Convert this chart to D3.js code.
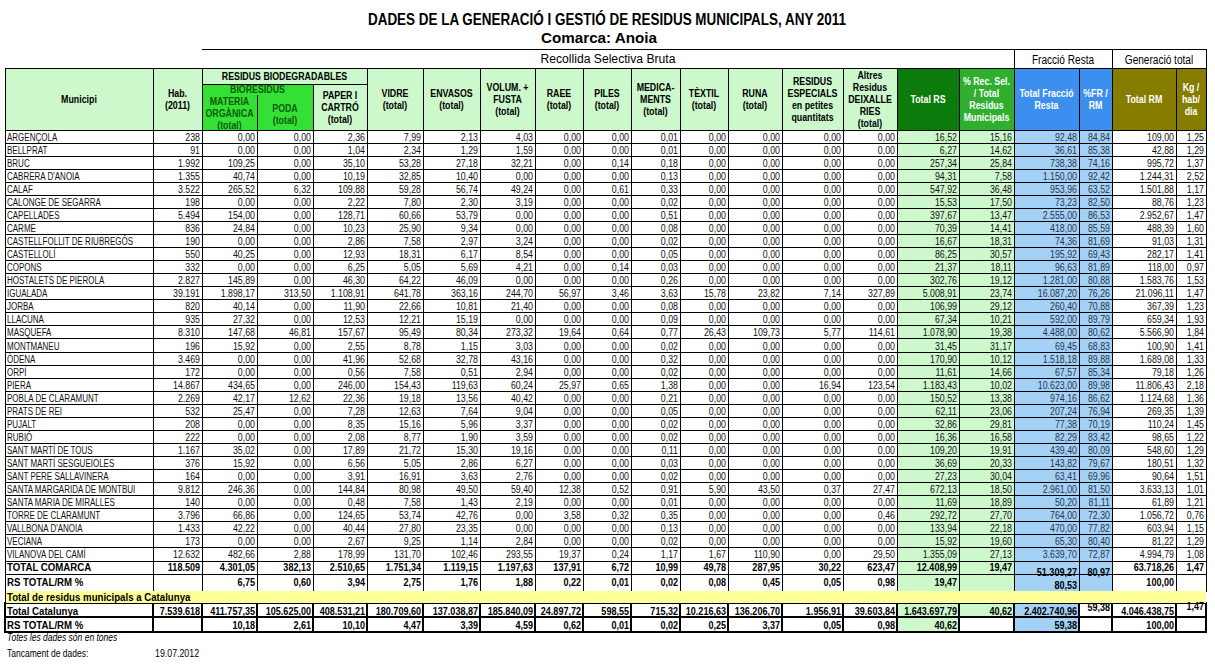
<!DOCTYPE html>
<html>
<head>
<meta charset="utf-8">
<script src="https://cdn.jsdelivr.net/npm/d3@7"></script>
<style>
  body { margin: 0; background: #fff; }
  svg { display: block; }
  text { font-family: "Liberation Sans", Arial, sans-serif; }
</style>
</head>
<body>
<div id="chart"></div>
<script>
// ---- data (tones) ----
const municipis = ["ARGENÇOLA", "BELLPRAT", "BRUC", "CABRERA D'ANOIA", "CALAF", "CALONGE DE SEGARRA",
  "CAPELLADES", "CARME", "CASTELLFOLLIT DE RIUBREGÓS", "CASTELLOLÍ", "COPONS", "HOSTALETS DE PIEROLA",
  "IGUALADA", "JORBA", "LLACUNA", "MASQUEFA", "MONTMANEU", "ÒDENA", "ORPÍ", "PIERA", "POBLA DE CLARAMUNT",
  "PRATS DE REI", "PUJALT", "RUBIÓ", "SANT MARTÍ DE TOUS", "SANT MARTÍ SESGUEIOLES", "SANT PERE SALLAVINERA",
  "SANTA MARGARIDA DE MONTBUI", "SANTA MARIA DE MIRALLES", "TORRE DE CLARAMUNT", "VALLBONA D'ANOIA",
  "VECIANA", "VILANOVA DEL CAMÍ"];

const habitants = [238, 91, 1992, 1355, 3522, 198, 5494, 836, 190, 550, 332, 2827, 39191, 820, 935, 8310,
  196, 3469, 172, 14867, 2269, 532, 208, 222, 1167, 376, 164, 9812, 140, 3796, 1433, 173, 12632];
const materiaOrganica = [0, 0, 109.25, 40.74, 265.52, 0, 154.00, 24.84, 0, 40.25, 0, 145.89, 1898.17, 40.14,
  27.32, 147.68, 15.92, 0, 0, 434.65, 42.17, 25.47, 0, 0, 35.02, 15.92, 0, 246.36, 0, 66.86, 42.22, 0, 482.66];
const poda = [0, 0, 0, 0, 6.32, 0, 0, 0, 0, 0, 0, 0, 313.50, 0, 0, 46.81, 0, 0, 0, 0, 12.62, 0, 0, 0, 0, 0,
  0, 0, 0, 0, 0, 0, 2.88];
const paperCartro = [2.36, 1.04, 35.10, 10.19, 109.88, 2.22, 128.71, 10.23, 2.86, 12.93, 6.25, 46.30, 1108.91,
  11.90, 12.53, 157.67, 2.55, 41.96, 0.56, 246.00, 22.36, 7.28, 8.35, 2.08, 17.89, 6.56, 3.91, 144.84, 0.48,
  124.65, 40.44, 2.67, 178.99];
const vidre = [7.99, 2.34, 53.28, 32.85, 59.28, 7.80, 60.66, 25.90, 7.58, 18.31, 5.05, 64.22, 641.78, 22.66,
  12.21, 95.49, 8.78, 52.68, 7.58, 154.43, 19.18, 12.63, 15.16, 8.77, 21.72, 5.05, 16.91, 80.98, 7.58, 53.74,
  27.80, 9.25, 131.70];
const envasos = [2.13, 1.29, 27.18, 10.40, 56.74, 2.30, 53.79, 9.34, 2.97, 6.17, 5.69, 46.09, 363.16, 10.81,
  15.19, 80.34, 1.15, 32.78, 0.51, 119.63, 13.56, 7.64, 5.96, 1.90, 15.30, 2.86, 3.63, 49.50, 1.43, 42.76,
  23.35, 1.14, 102.46];
const volumFusta = [4.03, 1.59, 32.21, 0, 49.24, 3.19, 0, 0, 3.24, 8.54, 4.21, 0, 244.70, 21.40, 0, 273.32,
  3.03, 43.16, 2.94, 60.24, 40.42, 9.04, 3.37, 3.59, 19.16, 6.27, 2.76, 59.40, 2.19, 0, 0, 2.84, 293.55];
const raee = [0, 0, 0, 0, 0, 0, 0, 0, 0, 0, 0, 0, 56.97, 0, 0, 19.64, 0, 0, 0, 25.97, 0, 0, 0, 0, 0, 0, 0,
  12.38, 0, 3.58, 0, 0, 19.37];
const piles = [0, 0, 0.14, 0, 0.61, 0, 0, 0, 0, 0, 0.14, 0, 3.46, 0, 0, 0.64, 0, 0, 0, 0.65, 0, 0, 0, 0, 0,
  0, 0, 0.52, 0, 0.32, 0, 0, 0.24];
const medicaments = [0.01, 0.01, 0.18, 0.13, 0.33, 0.02, 0.51, 0.08, 0.02, 0.05, 0.03, 0.26, 3.63, 0.08, 0.09,
  0.77, 0.02, 0.32, 0.02, 1.38, 0.21, 0.05, 0.02, 0.02, 0.11, 0.03, 0.02, 0.91, 0.01, 0.35, 0.13, 0.02, 1.17];
const textil = [0, 0, 0, 0, 0, 0, 0, 0, 0, 0, 0, 0, 15.78, 0, 0, 26.43, 0, 0, 0, 0, 0, 0, 0, 0, 0, 0, 0,
  5.90, 0, 0, 0, 0, 1.67];
const runa = [0, 0, 0, 0, 0, 0, 0, 0, 0, 0, 0, 0, 23.82, 0, 0, 109.73, 0, 0, 0, 0, 0, 0, 0, 0, 0, 0, 0,
  43.50, 0, 0, 0, 0, 110.90];
const especials = [0, 0, 0, 0, 0, 0, 0, 0, 0, 0, 0, 0, 7.14, 0, 0, 5.77, 0, 0, 0, 16.94, 0, 0, 0, 0, 0, 0, 0,
  0.37, 0, 0, 0, 0, 0];
const altresDeixalleries = [0, 0, 0, 0, 0, 0, 0, 0, 0, 0, 0, 0, 327.89, 0, 0, 114.61, 0, 0, 0, 123.54, 0, 0,
  0, 0, 0, 0, 0, 27.47, 0, 0.46, 0, 0, 29.50];
const totalRS = [16.52, 6.27, 257.34, 94.31, 547.92, 15.53, 397.67, 70.39, 16.67, 86.25, 21.37, 302.76,
  5008.91, 106.99, 67.34, 1078.90, 31.45, 170.90, 11.61, 1183.43, 150.52, 62.11, 32.86, 16.36, 109.20, 36.69,
  27.23, 672.13, 11.69, 292.72, 133.94, 15.92, 1355.09];
const pctRecSel = [15.16, 14.62, 25.84, 7.58, 36.48, 17.50, 13.47, 14.41, 18.31, 30.57, 18.11, 19.12, 23.74,
  29.12, 10.21, 19.38, 31.17, 10.12, 14.66, 10.02, 13.38, 23.06, 29.81, 16.58, 19.91, 20.33, 30.04, 18.50,
  18.89, 27.70, 22.18, 19.60, 27.13];
const totalFR = [92.48, 36.61, 738.38, 1150.00, 953.96, 73.23, 2555.00, 418.00, 74.36, 195.92, 96.63, 1281.00,
  16087.20, 260.40, 592.00, 4488.00, 69.45, 1518.18, 67.57, 10623.00, 974.16, 207.24, 77.38, 82.29, 439.40,
  143.82, 63.41, 2961.00, 50.20, 764.00, 470.00, 65.30, 3639.70];
const pctFR = [84.84, 85.38, 74.16, 92.42, 63.52, 82.50, 86.53, 85.59, 81.69, 69.43, 81.89, 80.88, 76.26,
  70.88, 89.79, 80.62, 68.83, 89.88, 85.34, 89.98, 86.62, 76.94, 70.19, 83.42, 80.09, 79.67, 69.96, 81.50,
  81.11, 72.30, 77.82, 80.40, 72.87];
const totalRM = [109.00, 42.88, 995.72, 1244.31, 1501.88, 88.76, 2952.67, 488.39, 91.03, 282.17, 118.00,
  1583.76, 21096.11, 367.39, 659.34, 5566.90, 100.90, 1689.08, 79.18, 11806.43, 1124.68, 269.35, 110.24,
  98.65, 548.60, 180.51, 90.64, 3633.13, 61.89, 1056.72, 603.94, 81.22, 4994.79];
const kgHabDia = [1.25, 1.29, 1.37, 2.52, 1.17, 1.23, 1.47, 1.60, 1.31, 1.41, 0.97, 1.53, 1.47, 1.23, 1.93,
  1.84, 1.41, 1.33, 1.26, 2.18, 1.36, 1.39, 1.45, 1.22, 1.29, 1.32, 1.51, 1.01, 1.21, 0.76, 1.15, 1.29, 1.08];

// summary rows, same column order as the series above (null = empty cell)
const totalComarca = [118509, 4301.05, 382.13, 2510.65, 1751.34, 1119.15, 1197.63, 137.91, 6.72, 10.99,
  49.78, 287.95, 30.22, 623.47, 12408.99, 19.47, 51309.27, 80.97, 63718.26, 1.47];
const pctComarca = [null, 6.75, 0.60, 3.94, 2.75, 1.76, 1.88, 0.22, 0.01, 0.02, 0.08, 0.45, 0.05, 0.98,
  19.47, null, 80.53, null, 100.00, null];
const totalCatalunya = [7539618, 411757.35, 105625.00, 408531.21, 180709.60, 137038.87, 185840.09, 24897.72,
  598.55, 715.32, 10216.63, 136206.70, 1956.91, 39603.84, 1643697.79, 40.62, 2402740.96, 59.38, 4046438.75, 1.47];
const pctCatalunya = [null, 10.18, 2.61, 10.10, 4.47, 3.39, 4.59, 0.62, 0.01, 0.02, 0.25, 3.37, 0.05, 0.98,
  40.62, null, 59.38, null, 100.00, null];

// ---- layout ----
const W = 1215, H = 671;
const colKeys = ['mun', 'hab', 'mo', 'poda', 'paper', 'vidre', 'envasos', 'volum', 'raee', 'piles', 'medic',
  'textil', 'runa', 'esp', 'altres', 'totRS', 'pctRS', 'totFR', 'pctFR', 'totRM', 'kg'];
const colEdges = [5, 153, 202, 257, 313, 367, 423, 480, 535, 583, 631, 680, 728, 782, 843, 897, 959, 1014,
  1079, 1112, 1176, 1206];
const numKeys = colKeys.slice(1);
const series = [habitants, materiaOrganica, poda, paperCartro, vidre, envasos, volumFusta, raee, piles,
  medicaments, textil, runa, especials, altresDeixalleries, totalRS, pctRecSel, totalFR, pctFR, totalRM, kgHabDia];

const LIGHT_GREEN = '#ccf8cc', BRIGHT_GREEN = '#35e035', DARK_GREEN = '#0b7c0b', MID_GREEN = '#2fae2f';
const BLUE = '#3c8fee', LIGHT_BLUE = '#a3d2f6', OLIVE = '#857c00', YELLOW = '#ffff99';

const loc = d3.formatLocale({ decimal: ',', thousands: '.', grouping: [3], currency: ['', ''] });
const fmtInt = loc.format(',d'), fmtDec = loc.format(',.2f');
const fmt = (k, v) => v == null ? '' : (k === 'hab' ? fmtInt(v) : fmtDec(v));

const x = d3.scaleOrdinal().domain(colKeys).range(colEdges.slice(0, -1));
const xEnd = d3.scaleOrdinal().domain(colKeys).range(colEdges.slice(1));
const y = d3.scaleBand().domain(municipis).range([130, 561]);

const cellFill = k => (k === 'totRS' || k === 'pctRS') ? LIGHT_GREEN
  : (k === 'totFR' || k === 'pctFR') ? LIGHT_BLUE : '#fff';

// narrow the glyphs, the original is horizontally squeezed
function squeeze(sel, k) {
  sel.each(function () {
    const w = this.getComputedTextLength();
    if (w > 0) d3.select(this).attr('textLength', w * k).attr('lengthAdjust', 'spacingAndGlyphs');
  });
}

const svg = d3.select('#chart').append('svg').attr('width', W).attr('height', H)
  .attr('shape-rendering', 'crispEdges');

// ---- titles ----
const titles = [
  { t: 'DADES DE LA GENERACIÓ I GESTIÓ DE RESIDUS MUNICIPALS, ANY 2011', cx: 607, y: 25, size: 16, bold: true, w: 478 },
  { t: 'Comarca: Anoia', cx: 599, y: 43, size: 14, bold: true, w: 116 },
  { t: 'Recollida Selectiva Bruta', cx: 608, y: 63, size: 12, bold: false, w: 135 }
];
svg.selectAll('text.title').data(titles).enter().append('text')
  .attr('class', 'title')
  .attr('x', d => d.cx).attr('y', d => d.y)
  .attr('text-anchor', 'middle')
  .attr('font-size', d => d.size)
  .attr('font-weight', d => d.bold ? 'bold' : 'normal')
  .attr('textLength', d => d.w).attr('lengthAdjust', 'spacingAndGlyphs')
  .text(d => d.t);

// ---- header ----
const headerCells = [
  { from: 'mun', to: 'mun', y0: 68, y1: 130, lines: ['Municipi'] },
  { from: 'hab', to: 'hab', y0: 68, y1: 130, lines: ['Hab.', '(2011)'] },
  { from: 'mo', to: 'paper', y0: 68, y1: 84, fill: LIGHT_GREEN, lines: ['RESIDUS BIODEGRADABLES'] },
  { from: 'mo', to: 'poda', y0: 84, y1: 96, fill: BRIGHT_GREEN, color: '#0a5c0a', lines: ['BIORESIDUS'], cy: 89 },
  { from: 'mo', to: 'mo', y0: 95, y1: 130, fill: BRIGHT_GREEN, color: '#0a5c0a', lines: ['MATERIA', 'ORGÀNICA', '(total)'], cy: 113.5 },
  { from: 'poda', to: 'poda', y0: 95, y1: 130, fill: BRIGHT_GREEN, color: '#0a5c0a', lines: ['PODA', '(total)'], cy: 114 },
  { from: 'paper', to: 'paper', y0: 84, y1: 130, fill: LIGHT_GREEN, lines: ['PAPER I', 'CARTRÓ', '(total)'], cy: 107 },
  { from: 'vidre', to: 'vidre', lines: ['VIDRE', '(total)'] },
  { from: 'envasos', to: 'envasos', lines: ['ENVASOS', '(total)'] },
  { from: 'volum', to: 'volum', lines: ['VOLUM. +', 'FUSTA', '(total)'] },
  { from: 'raee', to: 'raee', lines: ['RAEE', '(total)'] },
  { from: 'piles', to: 'piles', lines: ['PILES', '(total)'] },
  { from: 'medic', to: 'medic', lines: ['MEDICA-', 'MENTS', '(total)'] },
  { from: 'textil', to: 'textil', lines: ['TÈXTIL', '(total)'] },
  { from: 'runa', to: 'runa', lines: ['RUNA', '(total)'] },
  { from: 'esp', to: 'esp', lines: ['RESIDUS', 'ESPECIALS', 'en petites', 'quantitats'] },
  { from: 'altres', to: 'altres', lines: ['Altres', 'Residus', 'DEIXALLE', 'RIES', '(total)'] },
  { from: 'totRS', to: 'totRS', fill: DARK_GREEN, color: '#fff', lines: ['Total RS'] },
  { from: 'pctRS', to: 'pctRS', fill: MID_GREEN, color: '#fff', lines: ['% Rec. Sel.', '/ Total', 'Residus', 'Municipals'] },
  { from: 'totFR', to: 'totFR', fill: BLUE, color: '#fff', lines: ['Total Fracció', 'Resta'] },
  { from: 'pctFR', to: 'pctFR', fill: BLUE, color: '#fff', lines: ['%FR /', 'RM'] },
  { from: 'totRM', to: 'totRM', fill: OLIVE, color: '#fff', lines: ['Total RM'] },
  { from: 'kg', to: 'kg', fill: OLIVE, color: '#fff', lines: ['Kg /', 'hab/', 'dia'] },
  { from: 'totFR', to: 'pctFR', y0: 49, y1: 68, fill: '#fff', lines: ['Fracció Resta'], group: true },
  { from: 'totRM', to: 'kg', y0: 49, y1: 68, fill: '#fff', lines: ['Generació total'], group: true }
].map(d => Object.assign({ y0: 68, y1: 130, fill: LIGHT_GREEN, color: '#000' }, d));

const head = svg.append('g');
head.selectAll('rect').data(headerCells).enter().append('rect')
  .attr('x', d => x(d.from)).attr('y', d => d.y0)
  .attr('width', d => xEnd(d.to) - x(d.from)).attr('height', d => d.y1 - d.y0)
  .attr('fill', d => d.fill);

const headLines = headerCells.flatMap(d => {
  const cy = d.cy != null ? d.cy : (d.y0 + d.y1) / 2 + (d.group ? 1 : 0);
  const step = 12;
  return d.lines.map((t, i) => ({
    t, cell: d,
    cx: (x(d.from) + xEnd(d.to)) / 2,
    cy: cy + (i - (d.lines.length - 1) / 2) * step
  }));
});
head.selectAll('text').data(headLines).enter().append('text')
  .attr('x', d => d.cx).attr('y', d => d.cy)
  .attr('dy', '0.36em')
  .attr('text-anchor', 'middle')
  .attr('font-size', d => d.cell.group ? 12 : 10.5)
  .attr('font-weight', d => d.cell.group ? 'normal' : 'bold')
  .attr('fill', d => d.cell.color)
  .text(d => d.t)
  .call(squeeze, 0.84);

// header grid
const hSeg = [
  [x('mo'), xEnd('kg'), 49, 49], [x('mun'), xEnd('kg'), 68, 68], [x('mo'), xEnd('paper'), 84, 84],
  [x('mun'), xEnd('kg'), 130, 130]
];
colEdges.forEach((e, i) => {
  const k = colKeys[i];
  let y0 = 68;
  if (k === 'poda') y0 = 95;
  if (k === 'paper') y0 = 84;
  if (k === 'totFR' || k === 'totRM' || i === colEdges.length - 1) y0 = 49;
  hSeg.push([e, e, y0, 130]);
});
head.selectAll('line').data(hSeg).enter().append('line')
  .attr('x1', d => d[0]).attr('x2', d => d[1]).attr('y1', d => d[2]).attr('y2', d => d[3])
  .attr('stroke', '#000').attr('stroke-width', 1);

// ---- body ----
const rows = municipis.map((m, i) => ({ name: m, vals: series.map(s => s[i]) }));
const body = svg.append('g');
const rowG = body.selectAll('g.row').data(rows).enter().append('g').attr('class', 'row')
  .attr('transform', d => `translate(0,${y(d.name)})`);

rowG.selectAll('rect').data(d => colKeys.map(k => ({ k }))).enter().append('rect')
  .attr('x', d => x(d.k)).attr('y', 0)
  .attr('width', d => xEnd(d.k) - x(d.k)).attr('height', y.bandwidth())
  .attr('fill', d => cellFill(d.k)).attr('stroke', '#000').attr('stroke-width', 1);

rowG.append('text')
  .attr('x', x('mun') + 2).attr('y', y.bandwidth() - 2.5)
  .attr('font-size', 10).attr('fill', '#111')
  .text(d => d.name)
  .call(squeeze, 0.8);

rowG.selectAll('text.v').data(d => numKeys.map((k, i) => ({ k, v: d.vals[i] }))).enter().append('text')
  .attr('class', 'v')
  .attr('x', d => xEnd(d.k) - 2).attr('y', y.bandwidth() - 2.5)
  .attr('text-anchor', 'end')
  .attr('font-size', 10)
  .attr('fill', d => (d.k === 'totFR' || d.k === 'pctFR') ? '#2a3550' : '#111')
  .text(d => fmt(d.k, d.v))
  .call(squeeze, 0.88);

// ---- summary rows ----
const summary = [
  { key: 'totCom', label: 'TOTAL COMARCA', vals: totalComarca, top: 561, h: 13, base: 10, shift: { totFR: 5, pctFR: 5 } },
  { key: 'pctCom', label: 'RS TOTAL/RM %', vals: pctComarca, top: 574, h: 17, base: 12, shift: { totFR: 3 } },
  { key: 'totCat', label: 'Total Catalunya', vals: totalCatalunya, top: 603, h: 14, base: 12, shift: { pctFR: -4, kg: -5 }, plainPctFR: true },
  { key: 'pctCat', label: 'RS TOTAL/RM %', vals: pctCatalunya, top: 617, h: 15, base: 12, shift: {}, plainPctFR: true, plainPctRS: true }
];
const sumCells = svg.append('g');
const sumG = sumCells.selectAll('g').data(summary).enter().append('g')
  .attr('transform', d => `translate(0,${d.top})`);

sumG.selectAll('rect').data(d => colKeys.map(k => ({ k, row: d }))).enter().append('rect')
  .attr('x', d => x(d.k)).attr('y', 0)
  .attr('width', d => xEnd(d.k) - x(d.k)).attr('height', d => d.row.h)
  .attr('fill', d => {
    if (d.k === 'pctFR' && d.row.plainPctFR) return '#fff';
    if (d.k === 'pctRS' && d.row.plainPctRS) return '#fff';
    return cellFill(d.k);
  })
  .attr('stroke', '#000').attr('stroke-width', d => d.row.key.endsWith('Cat') ? 1.6 : 1);

// yellow band
svg.append('rect')
  .attr('x', x('mun')).attr('y', 591).attr('width', xEnd('kg') - x('mun')).attr('height', 12)
  .attr('fill', YELLOW);
svg.append('line').attr('x1', x('mun')).attr('x2', x('mun')).attr('y1', 591).attr('y2', 603)
  .attr('stroke', '#000');
svg.append('text')
  .attr('x', x('mun') + 2).attr('y', 601)
  .attr('font-size', 11.5).attr('font-weight', 'bold')
  .text('Total de residus municipals a Catalunya')
  .call(squeeze, 0.84);

// summary texts on top of every cell
const sumT = svg.append('g').selectAll('g').data(summary).enter().append('g')
  .attr('transform', d => `translate(0,${d.top})`);

sumT.append('text')
  .attr('x', x('mun') + 2).attr('y', d => d.base)
  .attr('font-size', 11.5).attr('font-weight', 'bold')
  .text(d => d.label)
  .call(squeeze, 0.84);

sumT.selectAll('text.v').data(d => numKeys.map((k, i) => ({ k, v: d.vals[i], row: d }))).enter().append('text')
  .attr('class', 'v')
  .attr('x', d => xEnd(d.k) - 2)
  .attr('y', d => d.row.base + (d.row.shift[d.k] || 0))
  .attr('text-anchor', 'end')
  .attr('font-size', 10.5)
  .attr('font-weight', 'bold')
  .text(d => fmt(d.k, d.v))
  .call(squeeze, 0.86);

// ---- footnotes ----
svg.append('text').attr('x', 7).attr('y', 641).attr('font-size', 10).attr('font-style', 'italic')
  .text('Totes les dades són en tones').call(squeeze, 0.85);
svg.append('text').attr('x', 7).attr('y', 657).attr('font-size', 10)
  .text('Tancament de dades:').call(squeeze, 0.85);
svg.append('text').attr('x', 155).attr('y', 657).attr('font-size', 10)
  .text('19.07.2012').call(squeeze, 0.88);
</script>
</body>
</html>
